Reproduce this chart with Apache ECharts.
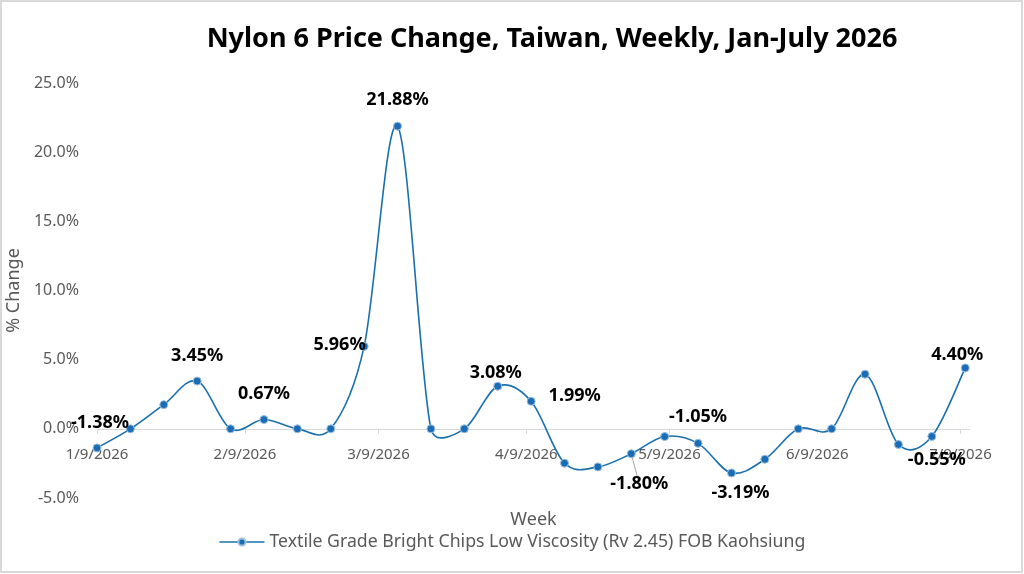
<!DOCTYPE html>
<html>
<head>
<meta charset="utf-8">
<title>Nylon 6 Price Change</title>
<script src="https://cdn.jsdelivr.net/npm/echarts@6/dist/echarts.min.js"></script>
<style>
  html, body { margin: 0; padding: 0; background: #fff; }
  #main { width: 1024px; height: 574px; }
</style>
</head>
<body>
<div id="main"></div>
<script>
// weekly dates (x) and % change values (y)
var weeks = [
    '2026-01-09', '2026-01-16', '2026-01-23', '2026-01-30',
    '2026-02-06', '2026-02-13', '2026-02-20', '2026-02-27',
    '2026-03-06', '2026-03-13', '2026-03-20', '2026-03-27',
    '2026-04-03', '2026-04-10', '2026-04-17', '2026-04-24',
    '2026-05-01', '2026-05-08', '2026-05-15', '2026-05-22', '2026-05-29',
    '2026-06-05', '2026-06-12', '2026-06-19', '2026-06-26',
    '2026-07-03', '2026-07-10'
];
var changes = [
    -1.38, 0, 1.75, 3.45,
    0, 0.67, 0, 0,
    5.96, 21.88, 0, 0,
    3.08, 1.99, -2.48, -2.75,
    -1.80, -0.56, -1.05, -3.19, -2.20,
    0, 0, 3.95, -1.13,
    -0.55, 4.40
];
// month ticks on the date axis
var monthTicks = ['2026-01-09', '2026-02-09', '2026-03-09', '2026-04-09', '2026-05-09', '2026-06-09', '2026-07-09'];
var seriesName = 'Textile Grade Bright Chips Low Viscosity (Rv 2.45) FOB Kaohsiung';

// which points carry a data label, and where it sits
var labelSpots = {
    0: { position: 'top', distance: 12, offset: [3, 0] },
    3: { position: 'top', distance: 12 },
    5: { position: 'top', distance: 12 },
    8: { position: 'left', distance: -6, offset: [0, -2] },
    9: { position: 'top', distance: 13 },
    12: { position: 'top', distance: 0, offset: [-2, 0] },
    13: { position: 'right', distance: 13, offset: [0, -5] },
    16: { position: 'bottom', distance: 17, offset: [8, 0], line: true },
    18: { position: 'top', distance: 13 },
    19: { position: 'bottom', distance: 6, offset: [9, 0] },
    25: { position: 'bottom', distance: 10, offset: [5, 0] },
    26: { position: 'top', distance: 0, offset: [-8, 0] }
};

var LINE_COLOR = '#1a70ad';

// x is measured in days from the first week
var DAY = 86400000;
function toDate(s) {
    var p = s.split('-');
    return Date.UTC(+p[0], +p[1] - 1, +p[2]);
}
var start = toDate(weeks[0]);
function toDay(s) { return Math.round((toDate(s) - start) / DAY); }
function dayLabel(v) {
    var d = new Date(start + v * DAY);
    return (d.getUTCMonth() + 1) + '/' + d.getUTCDate() + '/' + d.getUTCFullYear();
}
var tickDays = monthTicks.map(toDay);

var seriesData = weeks.map(function (w, i) {
    var item = { value: [toDay(w), changes[i]] };
    var spot = labelSpots[i];
    if (spot) {
        item.label = {
            show: true,
            position: spot.position,
            distance: spot.distance,
            offset: spot.offset || [0, 0]
        };
        if (spot.line) {
            item.labelLine = { show: true, lineStyle: { color: '#a6a6a6', width: 1 } };
        }
    }
    return item;
});

// Excel-style smoothing: catmull-rom tangents (1/6), capped at half the segment
function ctrl(from, a, b, segLen, sign) {
    var vx = (b[0] - a[0]) / 6, vy = (b[1] - a[1]) / 6;
    var len = Math.sqrt(vx * vx + vy * vy);
    var cap = segLen / 2;
    if (len > cap && len > 0) {
        vx = vx * cap / len;
        vy = vy * cap / len;
    }
    return [from[0] + sign * vx, from[1] + sign * vy];
}
function renderSegment(params, api) {
    var i = params.dataIndex;
    var n = weeks.length;
    if (i >= n - 1) return null;
    function pt(k) {
        k = Math.max(0, Math.min(n - 1, k));
        return api.coord([toDay(weeks[k]), changes[k]]);
    }
    var p0 = pt(i - 1), p1 = pt(i), p2 = pt(i + 1), p3 = pt(i + 2);
    var seg = Math.sqrt(Math.pow(p2[0] - p1[0], 2) + Math.pow(p2[1] - p1[1], 2));
    var c1 = ctrl(p1, p0, p2, seg, 1);
    var c2 = ctrl(p2, p1, p3, seg, -1);
    return {
        type: 'bezierCurve',
        shape: {
            x1: p1[0], y1: p1[1],
            x2: p2[0], y2: p2[1],
            cpx1: c1[0], cpy1: c1[1],
            cpx2: c2[0], cpy2: c2[1]
        },
        style: { stroke: LINE_COLOR, lineWidth: 1.6, fill: 'none' }
    };
}

var yMin = -5, yMax = 25;
var gridTop = 83, gridBottom = 76, chartH = 574;
// lift the x axis up to the 0% line (labels stay with it)
var zeroOffset = -(chartH - gridTop - gridBottom) * (0 - yMin) / (yMax - yMin);

var chart = echarts.init(document.getElementById('main'));
var option = {
    backgroundColor: '#fff',
    animation: false,
    textStyle: { fontFamily: 'Noto Sans' },
    title: {
        text: 'Nylon 6 Price Change, Taiwan, Weekly, Jan-July 2026',
        left: 547,
        top: 21,
        textAlign: 'center',
        textStyle: { fontSize: 27, fontWeight: 'bold', color: '#000', fontFamily: 'Noto Sans' }
    },
    graphic: [{
        type: 'rect',
        shape: { x: 1, y: 1, width: 1021, height: 571 },
        style: { fill: 'none', stroke: '#d9d9d9', lineWidth: 2 },
        silent: true
    }],
    legend: {
        top: 528,
        left: 'center',
        itemWidth: 45,
        itemHeight: 9,
        itemGap: 8,
        lineStyle: { color: LINE_COLOR, width: 1.6, opacity: 1 },
        textStyle: { fontSize: 17.7, color: '#595959' },
        data: [seriesName]
    },
    grid: { left: 97, right: 54, top: gridTop, bottom: gridBottom, outerBoundsMode: 'none', containLabel: false },
    xAxis: {
        type: 'value',
        min: 0,
        max: 183,
        offset: zeroOffset,
        name: 'Week',
        nameLocation: 'middle',
        nameGap: 82,
        nameTextStyle: { fontSize: 18, color: '#595959' },
        axisLine: { onZero: false, lineStyle: { color: '#d9d9d9', width: 1 } },
        axisTick: { show: true, length: 5, customValues: tickDays, lineStyle: { color: '#d9d9d9' } },
        axisLabel: {
            customValues: tickDays,
            color: '#595959',
            fontSize: 15,
            margin: 18,
            hideOverlap: false,
            formatter: dayLabel
        },
        splitLine: { show: false }
    },
    yAxis: {
        type: 'value',
        min: yMin,
        max: yMax,
        interval: 5,
        name: '% Change',
        nameLocation: 'middle',
        nameGap: 63,
        nameTextStyle: { fontSize: 18, color: '#595959' },
        axisLine: { show: false },
        axisTick: { show: false },
        splitLine: { show: false },
        axisLabel: {
            color: '#595959',
            fontSize: 16,
            margin: 18,
            formatter: function (v) { return v.toFixed(1) + '%'; }
        }
    },
    series: [{
        name: 'curve',
        type: 'custom',
        z: 1,
        silent: true,
        renderItem: renderSegment,
        encode: { x: 0, y: 1 },
        data: weeks.map(function (w, i) { return [toDay(w), changes[i]]; })
    }, {
        name: seriesName,
        type: 'line',
        z: 3,
        symbol: 'circle',
        symbolSize: 8,
        showAllSymbol: true,
        lineStyle: { color: LINE_COLOR, width: 1.6, opacity: 0 },
        itemStyle: { color: '#1a6db4', borderColor: '#9dbfe0', borderWidth: 1 },
        label: {
            show: false,
            color: '#000',
            fontSize: 18,
            fontWeight: 'bold',
            formatter: function (p) { return p.value[1].toFixed(2) + '%'; }
        },
        emphasis: { disabled: true },
        data: seriesData
    }]
};
chart.setOption(option);
</script>
</body>
</html>
